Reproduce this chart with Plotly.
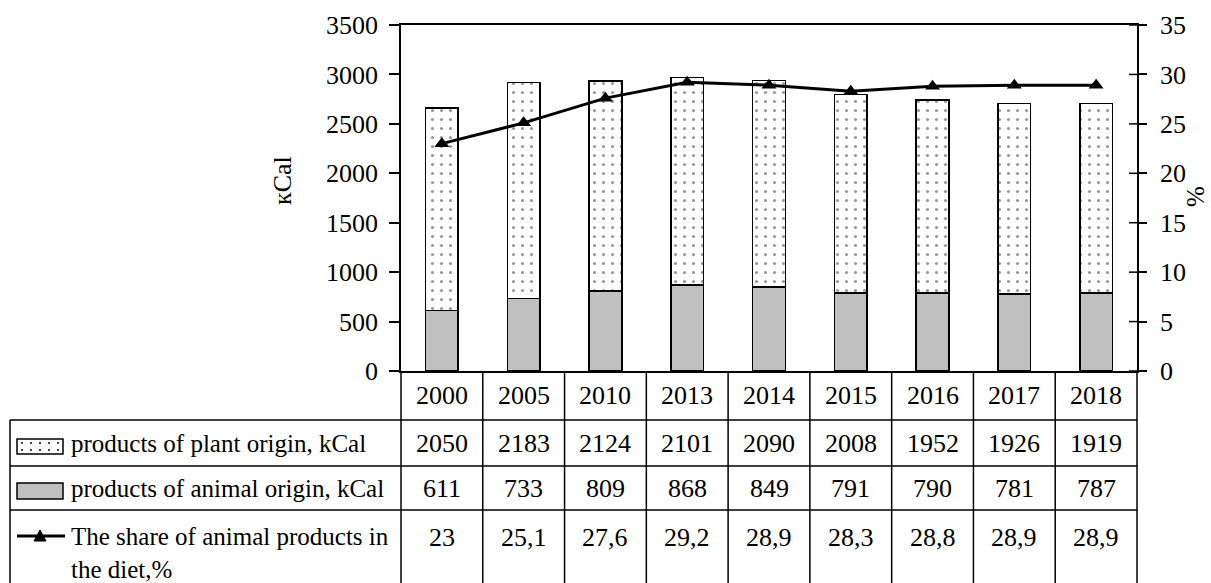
import plotly.graph_objects as go

# Data
years = ["2000", "2005", "2010", "2013", "2014", "2015", "2016", "2017", "2018"]
plant_kcal = [2050, 2183, 2124, 2101, 2090, 2008, 1952, 1926, 1919]
animal_kcal = [611, 733, 809, 868, 849, 791, 790, 781, 787]
animal_share = [23, 25.1, 27.6, 29.2, 28.9, 28.3, 28.8, 28.9, 28.9]
share_labels = ["23", "25,1", "27,6", "29,2", "28,9", "28,3", "28,8", "28,9", "28,9"]
share_ticks = [0, 5, 10, 15, 20, 25, 30, 35]

row_names = [
    "products of plant origin, kCal",
    "products of animal origin, kCal",
    "The share of animal products in<br>the diet,%",
]

FONT = "Liberation Serif, Times New Roman, serif"
FS = 26       # numbers and axis text
FS_ROW = 25   # row captions of the data table
W, H = 1211, 583
L, R, T, B = 401, 1137, 25, 371  # plot area in pixels


def px(x):
    return (x - L) / (R - L)


def py(y):
    return (B - y) / (B - T)


fig = go.Figure()

fig.add_trace(go.Bar(
    x=years, y=animal_kcal, name="products of animal origin, kCal",
    marker=dict(color="#C0C0C0", line=dict(color="black", width=1.5)),
    showlegend=False,
))
fig.add_trace(go.Bar(
    x=years, y=plant_kcal, name="products of plant origin, kCal",
    marker=dict(
        color="white",
        line=dict(color="black", width=1.5),
        pattern=dict(shape=".", fgcolor="#333333", bgcolor="white",
                     size=9, solidity=0.1, fillmode="overlay"),
    ),
    showlegend=False,
))
fig.add_trace(go.Scatter(
    x=years, y=animal_share, yaxis="y2", mode="lines+markers",
    name="The share of animal products in the diet,%",
    line=dict(color="black", width=3),
    marker=dict(symbol="triangle-up", size=13, color="black"),
    showlegend=False,
))

shapes = []
annotations = []


def label(text, x, y, xref="paper", size=FS, **kw):
    d = dict(x=x, xref=xref, y=y, yref="paper", text=text, showarrow=False,
             xanchor="center", yanchor="middle", font=dict(size=size))
    d.update(kw)
    annotations.append(d)


# Inner half of the crossing ticks on the right-hand axis
for t in share_ticks:
    shapes.append(dict(type="line", xref="paper", yref="y2",
                       x0=1 - 8 / (R - L), x1=1, y0=t, y1=t,
                       line=dict(color="black", width=1.5)))

# Table grid: row boundaries (pixels)
row_y = [371, 420, 466, 510, 583]
left_x = 10

# vertical lines at the category boundaries
n = len(years)
for i in range(n + 1):
    shapes.append(dict(type="line", xref="x domain", yref="paper",
                       x0=i / n, x1=i / n, y0=py(row_y[0]), y1=py(row_y[-1]),
                       line=dict(color="black", width=1.5)))
# left border of the label column
shapes.append(dict(type="line", xref="paper", yref="paper",
                   x0=px(left_x), x1=px(left_x), y0=py(row_y[1]), y1=py(row_y[-1]),
                   line=dict(color="black", width=1.5)))
# horizontal lines
for yy in row_y[1:4]:
    shapes.append(dict(type="line", xref="paper", yref="paper",
                       x0=px(left_x), x1=1, y0=py(yy), y1=py(yy),
                       line=dict(color="black", width=1.5)))

# Table cells, placed at each category's position on the x axis
row_text_y = [443, 488, 537]
for i, yr in enumerate(years):
    label(yr, i, py(395), xref="x")
    label(str(plant_kcal[i]), i, py(row_text_y[0]), xref="x")
    label(str(animal_kcal[i]), i, py(row_text_y[1]), xref="x")
    label(share_labels[i], i, py(row_text_y[2]), xref="x")

# Row labels
for name, yy in zip(row_names[:2], row_text_y[:2]):
    label(name, px(69), py(yy), size=FS_ROW, xanchor="left")
label(row_names[2], px(69), py(521), size=FS_ROW, xanchor="left",
      yanchor="top", align="left")

# Legend keys in the label column
kx0, kx1 = 17, 63
# dotted key
shapes.append(dict(type="rect", xref="paper", yref="paper",
                   x0=px(kx0), x1=px(kx1), y0=py(439), y1=py(454),
                   fillcolor="white", line=dict(color="black", width=1.5)))
dots = ""
for dy in (443, 450):
    for dx in range(22, 62, 9):
        dots += (f"M{px(dx - 0.9)},{py(dy - 0.9)} L{px(dx + 0.9)},{py(dy - 0.9)} "
                 f"L{px(dx + 0.9)},{py(dy + 0.9)} L{px(dx - 0.9)},{py(dy + 0.9)} Z ")
shapes.append(dict(type="path", xref="paper", yref="paper", path=dots.strip(),
                   fillcolor="#333333", line=dict(width=0)))
# grey key
shapes.append(dict(type="rect", xref="paper", yref="paper",
                   x0=px(kx0), x1=px(kx1), y0=py(483), y1=py(499),
                   fillcolor="#C0C0C0", line=dict(color="black", width=1.5)))
# line + triangle key
shapes.append(dict(type="line", xref="paper", yref="paper",
                   x0=px(kx0), x1=px(65), y0=py(536), y1=py(536),
                   line=dict(color="black", width=3)))
tri = f"M{px(34)},{py(541)} L{px(46)},{py(541)} L{px(40)},{py(530)} Z"
shapes.append(dict(type="path", xref="paper", yref="paper", path=tri,
                   fillcolor="black", line=dict(color="black", width=1)))

# Axis titles
label("кCal", px(282), py(181), textangle=-90)
label("%", px(1195), py(197), size=FS_ROW, textangle=-90)

fig.update_layout(
    width=W, height=H,
    margin=dict(l=L, r=W - R, t=T, b=H - B, pad=0),
    paper_bgcolor="white", plot_bgcolor="white",
    font=dict(family=FONT, size=FS, color="black"),
    barmode="stack", bargap=0.6,
    xaxis=dict(type="category", range=[-0.5, len(years) - 0.5],
               showticklabels=False, ticks="", showgrid=False,
               showline=True, linecolor="black", linewidth=1.5, mirror=True,
               zeroline=False),
    yaxis=dict(range=[0, 3500], dtick=500, showgrid=False, zeroline=False,
               showline=True, linecolor="black", linewidth=1.5,
               ticks="outside", ticklen=10, tickwidth=1.5, tickcolor="black",
               ticklabelstandoff=6),
    yaxis2=dict(range=[0, 35], tickvals=share_ticks, overlaying="y", side="right",
                showgrid=False, zeroline=False, showline=True,
                linecolor="black", linewidth=1.5,
                ticks="outside", ticklen=8, tickwidth=1.5, tickcolor="black",
                ticklabelstandoff=8),
    shapes=shapes,
    annotations=annotations,
)

fig.write_html("out.html")
